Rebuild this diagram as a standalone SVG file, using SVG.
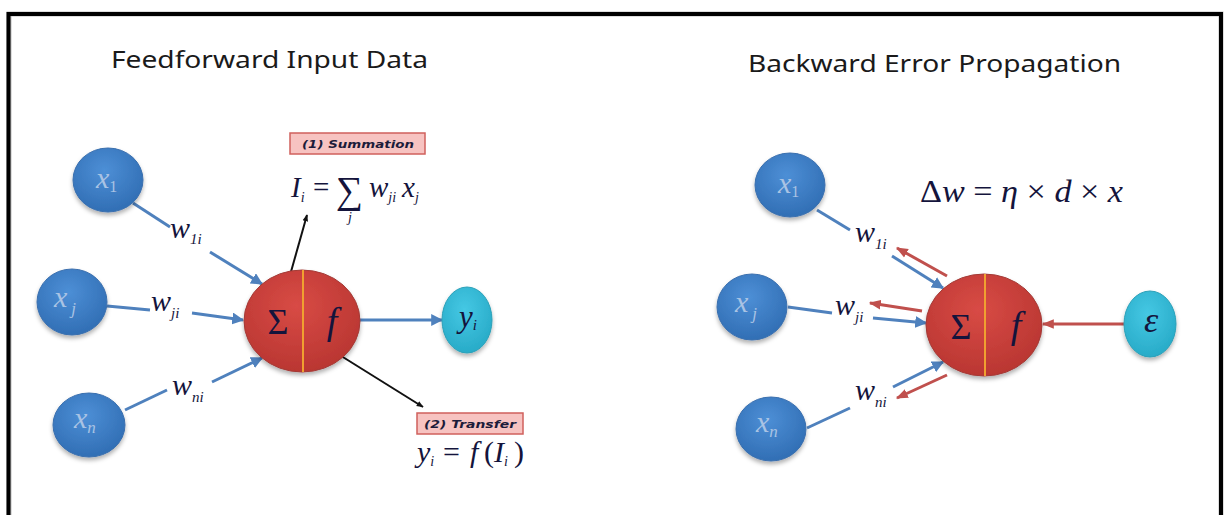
<svg xmlns="http://www.w3.org/2000/svg" width="1228" height="515" viewBox="0 0 1228 515">
<defs>
<style>
.title{font-family:"Noto Sans","Liberation Sans",sans-serif;font-size:23px;fill:#1a1a1a}
.m{font-family:"Liberation Serif","DejaVu Serif",serif;font-style:italic;fill:#14143c}
.mn{font-family:"Liberation Serif","DejaVu Serif",serif;fill:#14143c}
.nx{font-family:"Liberation Serif",serif;font-style:italic;font-size:30px;fill:#a9c3e4}
.tag{font-family:"DejaVu Sans","Liberation Sans",sans-serif;font-weight:bold;font-style:italic;font-size:11px;fill:#1c1c3a}
.box{fill:#f7c3c1;stroke:#d0605c;stroke-width:1.5}
.blue{fill:none;stroke:#4f81bd;stroke-width:3}
.red{fill:none;stroke:#c0504d;stroke-width:3}
.blk{fill:none;stroke:#111;stroke-width:2}
.bn{fill:url(#gb);stroke:#3a6fae;stroke-width:1;filter:url(#sh)}
.rn{fill:url(#gr);stroke:#a33a36;stroke-width:1;filter:url(#sh)}
.cn{fill:url(#gc);stroke:#2aa0b8;stroke-width:1;filter:url(#sh)}
.div{stroke:#f0a030;stroke-width:2}
</style>
<radialGradient id="gb" cx="0.45" cy="0.35" r="0.7"><stop offset="0" stop-color="#4d8fd6"/><stop offset="1" stop-color="#2f6cb2"/></radialGradient>
<radialGradient id="gr" cx="0.45" cy="0.35" r="0.75"><stop offset="0" stop-color="#d84b45"/><stop offset="1" stop-color="#b5332f"/></radialGradient>
<radialGradient id="gc" cx="0.45" cy="0.35" r="0.7"><stop offset="0" stop-color="#45c8e4"/><stop offset="1" stop-color="#26a9c6"/></radialGradient>
<filter id="sh" x="-20%" y="-20%" width="140%" height="150%"><feDropShadow dx="0" dy="3" stdDeviation="2" flood-color="#000" flood-opacity="0.3"/></filter>
<marker id="ab" viewBox="0 0 10 10" refX="9" refY="5" markerWidth="4" markerHeight="4" orient="auto"><path d="M0,0L10,5L0,10z" fill="#4f81bd"/></marker>
<marker id="ar" viewBox="0 0 10 10" refX="9" refY="5" markerWidth="4" markerHeight="4" orient="auto"><path d="M0,1L10,5L0,9z" fill="#c0504d"/></marker>
<marker id="ak" viewBox="0 0 10 10" refX="9" refY="5" markerWidth="3.5" markerHeight="3.5" orient="auto"><path d="M0,1L10,5L0,9z" fill="#111"/></marker>
</defs>
<rect width="1228" height="515" fill="#fff"/>
<path d="M9,515V14H1221V515" fill="none" stroke="#bbb" stroke-width="5"/>
<path d="M8.5,515V14H1221V515" fill="none" stroke="#000" stroke-width="4"/>

<text class="title" x="111" y="68" textLength="317" lengthAdjust="spacingAndGlyphs">Feedforward Input Data</text>
<text class="title" x="748" y="72" textLength="373" lengthAdjust="spacingAndGlyphs">Backward Error Propagation</text>

<g id="connectors">
<path class="blue" d="M133,203L170,227"/>
<path class="blue" d="M210,252L262,284" marker-end="url(#ab)"/>
<path class="blue" d="M107,306L150,310"/>
<path class="blue" d="M192,313L243,320" marker-end="url(#ab)"/>
<path class="blue" d="M125,410L167,390"/>
<path class="blue" d="M212,382L262,358" marker-end="url(#ab)"/>
<path class="blue" d="M360,320L442,320" marker-end="url(#ab)"/>
<path class="blk" d="M285,293L307,215" marker-end="url(#ak)"/>
<path class="blk" d="M330,349L423,407" marker-end="url(#ak)"/>
<path class="blue" d="M817,210L850,230"/>
<path class="blue" d="M892,256L943,288" marker-end="url(#ab)"/>
<path class="red" d="M947,276L897,248" marker-end="url(#ar)"/>
<path class="blue" d="M788,307L832,313"/>
<path class="blue" d="M873,318L926,323" marker-end="url(#ab)"/>
<path class="red" d="M922,311L870,303" marker-end="url(#ar)"/>
<path class="blue" d="M807,428L850,408"/>
<path class="blue" d="M893,387L943,362" marker-end="url(#ab)"/>
<path class="red" d="M947,375L897,398" marker-end="url(#ar)"/>
<path class="red" d="M1124,324L1043,324" marker-end="url(#ar)"/>
</g>

<g id="x1-left"><ellipse class="bn" cx="108" cy="180" rx="35" ry="32"/><text class="nx" x="96" y="188">x<tspan font-size="16" font-style="normal" dy="4">1</tspan></text></g>
<g id="xj-left"><ellipse class="bn" cx="72" cy="302" rx="35" ry="33"/><text class="nx" x="54" y="307">x<tspan font-size="17" dx="4" dy="7">j</tspan></text></g>
<g id="xn-left"><ellipse class="bn" cx="89" cy="425" rx="36" ry="32"/><text class="nx" x="74" y="428">x<tspan font-size="17" dy="5">n</tspan></text></g>
<g id="neuron-left"><ellipse class="rn" cx="302" cy="321" rx="58" ry="51"/><line class="div" x1="303" y1="270" x2="303" y2="372"/><text class="mn" x="278" y="334" font-size="36" text-anchor="middle">Σ</text><text class="m" x="332" y="334" font-size="38" text-anchor="middle">f</text></g>
<g id="yi"><ellipse class="cn" cx="467" cy="320" rx="25" ry="33"/><text class="m" x="459" y="327" font-size="31">y<tspan font-size="15" dy="3">i</tspan></text></g>

<g id="w1i-left"><text class="m" x="170" y="238" font-size="30">w<tspan font-size="15" dy="6">1i</tspan></text></g>
<g id="wji-left"><text class="m" x="151" y="311" font-size="30">w<tspan font-size="15" dy="7">ji</tspan></text></g>
<g id="wni-left"><text class="m" x="172" y="395" font-size="30">w<tspan font-size="15" dy="7">ni</tspan></text></g>

<g id="summation">
<rect class="box" x="290" y="133" width="135" height="21"/>
<text class="tag" x="302" y="148" textLength="112" lengthAdjust="spacingAndGlyphs">(1) Summation</text>
<text class="m" x="291" y="197" font-size="29">I<tspan font-size="14" dy="5">i</tspan></text>
<text class="mn" x="313" y="197" font-size="29">=</text>
<text class="mn" x="336" y="203" font-size="38">∑</text>
<text class="m" x="348" y="222" font-size="14">j</text>
<text class="m" x="369" y="197" font-size="29">w<tspan font-size="14" dy="5">ji</tspan></text>
<text class="m" x="402" y="197" font-size="29">x<tspan font-size="14" dy="5">j</tspan></text>
</g>

<g id="transfer">
<rect class="box" x="417" y="413" width="106" height="21"/>
<text class="tag" x="424" y="428" textLength="92" lengthAdjust="spacingAndGlyphs">(2) Transfer</text>
<text class="m" x="417" y="462" font-size="30">y<tspan font-size="14" dy="4">i</tspan></text>
<text class="mn" x="443" y="462" font-size="30">=</text>
<text class="m" x="470" y="462" font-size="30">f</text>
<text class="mn" x="484" y="462" font-size="30">(</text>
<text class="m" x="494" y="462" font-size="30">I<tspan font-size="14" dy="4">i</tspan></text>
<text class="mn" x="514" y="462" font-size="30">)</text>
</g>

<g id="x1-right"><ellipse class="bn" cx="790" cy="185" rx="35" ry="32"/><text class="nx" x="778" y="193">x<tspan font-size="16" font-style="normal" dy="4">1</tspan></text></g>
<g id="xj-right"><ellipse class="bn" cx="752" cy="307" rx="35" ry="33"/><text class="nx" x="735" y="312">x<tspan font-size="17" dx="4" dy="7">j</tspan></text></g>
<g id="xn-right"><ellipse class="bn" cx="771" cy="429" rx="35" ry="32"/><text class="nx" x="756" y="432">x<tspan font-size="17" dy="5">n</tspan></text></g>
<g id="neuron-right"><ellipse class="rn" cx="984" cy="325" rx="58" ry="51"/><line class="div" x1="985" y1="274" x2="985" y2="376"/><text class="mn" x="961" y="339" font-size="36" text-anchor="middle">Σ</text><text class="m" x="1016" y="338" font-size="38" text-anchor="middle">f</text></g>
<g id="epsilon"><ellipse class="cn" cx="1150" cy="324" rx="26" ry="33"/><text class="m" x="1151" y="332" font-size="36" text-anchor="middle">ε</text></g>

<g id="w1i-right"><text class="m" x="855" y="242" font-size="30">w<tspan font-size="15" dy="7">1i</tspan></text></g>
<g id="wji-right"><text class="m" x="835" y="315" font-size="30">w<tspan font-size="15" dy="7">ji</tspan></text></g>
<g id="wni-right"><text class="m" x="855" y="400" font-size="30">w<tspan font-size="15" dy="7">ni</tspan></text></g>

<g id="delta-rule"><text class="m" x="920" y="202" font-size="32" textLength="203" lengthAdjust="spacingAndGlyphs"><tspan font-style="normal">Δ</tspan>w <tspan font-style="normal">=</tspan> η <tspan font-style="normal">×</tspan> d <tspan font-style="normal">×</tspan> x</text></g>
</svg>
